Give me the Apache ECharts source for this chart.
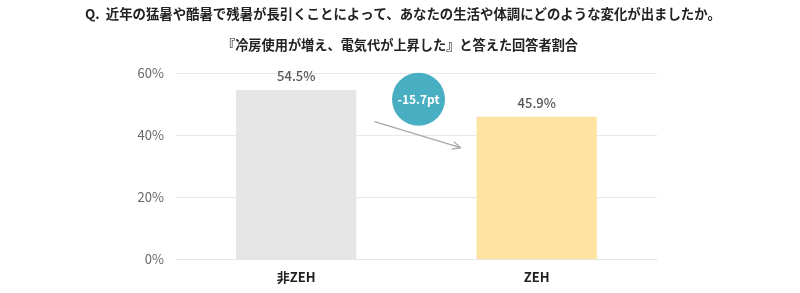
<!DOCTYPE html>
<html>
<head>
<meta charset="utf-8">
<script src="https://cdn.jsdelivr.net/npm/echarts@6/dist/echarts.min.js"></script>
<style>
html,body{margin:0;padding:0;background:#fff;}
#main{width:800px;height:293px;}
</style>
</head>
<body>
<div id="main"></div>
<script>
var questionText = 'Q.  近年の猛暑や酷暑で残暑が長引くことによって、あなたの生活や体調にどのような変化が出ましたか。';
var subtitleText = '『冷房使用が増え、電気代が上昇した』と答えた回答者割合';
var categories = ['非ZEH', 'ZEH'];
var values = [54.5, 45.9];
var barColors = ['#e5e5e5', '#ffe3a1'];
var yTicks = [0, 20, 40, 60];
var deltaLabel = '-15.7pt';

var FONT = '"Noto Sans CJK JP", "Noto Sans", sans-serif';
var chart = echarts.init(document.getElementById('main'), null, {renderer: 'canvas'});

var option = {
  animation: false,
  backgroundColor: '#ffffff',
  title: [
    {text: questionText, left: 80, top: 2,
     textStyle: {fontFamily: FONT, fontSize: 13.4, fontWeight: 'bold', color: '#222'}},
    {text: subtitleText, left: 'center', top: 33,
     textStyle: {fontFamily: FONT, fontSize: 13.2, fontWeight: 'bold', color: '#222'}}
  ],
  grid: {left: 176, right: 143, top: 73, bottom: 34, containLabel: false},
  xAxis: {
    type: 'category', data: categories,
    axisLine: {show: true, lineStyle: {color: '#e6e6e6', width: 1}},
    axisTick: {show: false},
    axisLabel: {fontFamily: FONT, fontSize: 13, fontWeight: 'bold', color: '#222', margin: 12}
  },
  yAxis: {
    type: 'value', min: yTicks[0], max: yTicks[yTicks.length - 1], interval: 20,
    axisLine: {show: false}, axisTick: {show: false},
    splitLine: {lineStyle: {color: '#e8e8e8', width: 1}},
    axisLabel: {fontFamily: FONT, fontSize: 13, color: '#666', margin: 12,
      formatter: function (v) { return v + '%'; }}
  },
  series: [{
    type: 'bar', barWidth: '50%',
    data: values.map(function (v, i) { return {value: v, itemStyle: {color: barColors[i]}}; }),
    label: {show: true, position: 'top', distance: 7, fontFamily: FONT, fontSize: 13,
      fontWeight: 500, color: '#555', formatter: function (p) { return p.value.toFixed(1) + '%'; }}
  }]
};
chart.setOption(option);

// annotation: arrow between bars and a bubble with the difference
var p0 = chart.convertToPixel({seriesIndex: 0}, [0, values[0]]);
var p1 = chart.convertToPixel({seriesIndex: 0}, [1, values[1]]);
var mid = (p0[0] + p1[0]) / 2;
var ay0 = chart.convertToPixel({yAxisIndex: 0}, values[0] - 10.2);
var ay1 = chart.convertToPixel({yAxisIndex: 0}, values[1] - 10.0);
var by = chart.convertToPixel({yAxisIndex: 0}, 51.5);
var x0 = mid - 42, x1 = mid + 44;
var ang = Math.atan2(ay1 - ay0, x1 - x0);
var hl = 9, ha = 0.45;
chart.setOption({
  graphic: [
    {type: 'line', shape: {x1: x0, y1: ay0, x2: x1, y2: ay1},
     style: {stroke: '#a8a8a8', lineWidth: 1.3}},
    {type: 'polyline', shape: {points: [
      [x1 - hl * Math.cos(ang - ha), ay1 - hl * Math.sin(ang - ha)],
      [x1, ay1],
      [x1 - hl * Math.cos(ang + ha), ay1 - hl * Math.sin(ang + ha)]]},
     style: {stroke: '#a8a8a8', lineWidth: 1.3, fill: null}},
    {type: 'circle', shape: {cx: mid + 2, cy: by, r: 26.5},
     style: {fill: '#48afc3'}},
    {type: 'text', x: mid + 2, y: by,
     style: {text: deltaLabel, fill: '#fff', font: 'bold 12px ' + FONT,
       align: 'center', verticalAlign: 'middle'}}
  ]
});
</script>
</body>
</html>
